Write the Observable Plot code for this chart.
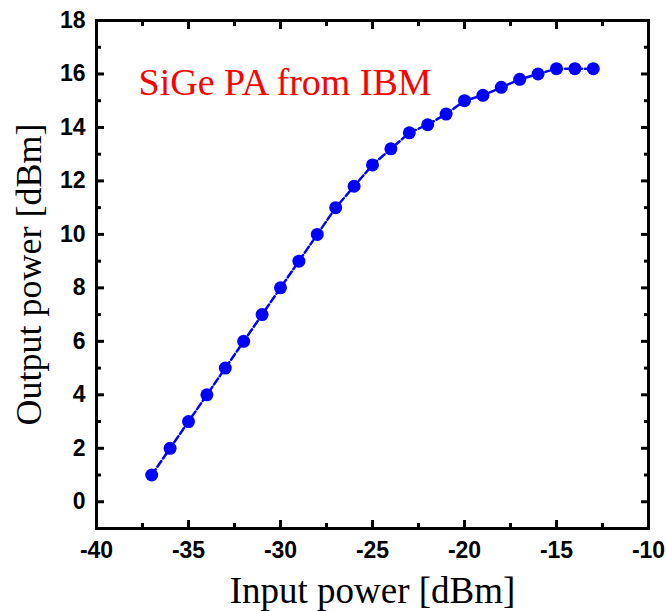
<!DOCTYPE html>
<html>
<head>
<meta charset="utf-8">
<script src="https://cdn.jsdelivr.net/npm/d3@7"></script>
<script src="https://cdn.jsdelivr.net/npm/@observablehq/plot@0.6"></script>
<style>
  html, body { margin: 0; padding: 0; background: #fff; }
  #chart svg { display: block; }
</style>
</head>
<body>
<div id="chart"></div>
<script>
const inputPower = [-37, -36, -35, -34, -33, -32, -31, -30, -29, -28, -27, -26, -25, -24, -23, -22, -21, -20, -19, -18, -17, -16, -15, -14, -13];
const outputPower = [1, 2, 3, 4, 5, 6, 7, 8, 9, 10, 11, 11.8, 12.6, 13.2, 13.8, 14.1, 14.5, 15, 15.2, 15.5, 15.8, 16, 16.2, 16.2, 16.2];
const xMajorTicks = [-40, -35, -30, -25, -20, -15, -10];
const xMinorTicks = [-37.5, -32.5, -27.5, -22.5, -17.5, -12.5];
const yMajorTicks = [0, 2, 4, 6, 8, 10, 12, 14, 16, 18];
const yMinorTicks = [-1, 1, 3, 5, 7, 9, 11, 13, 15, 17];
const xLabel = "Input power [dBm]";
const yLabel = "Output power [dBm]";
const annotation = "SiGe PA from IBM";

const data = inputPower.map((x, i) => ({x, y: outputPower[i]}));

const W = 666, H = 611, ML = 96, MR = 18, MT = 20, MB = 83;
const MAJ = 8, MIN = 5;
const tickFont = {fontFamily: "'Liberation Sans', Arial, sans-serif", fontWeight: "bold", fontSize: 23};
const serif = "'Liberation Serif', 'Times New Roman', serif";
const tk = {stroke: "#000", strokeWidth: 3};
const blank = () => "";

const chart = Plot.plot({
  width: W,
  height: H,
  marginLeft: ML,
  marginRight: MR,
  marginTop: MT,
  marginBottom: MB,
  style: {background: "#fff", color: "#000", overflow: "visible"},
  x: {domain: [-40, -10]},
  y: {domain: [-1, 18]},
  marks: [
    Plot.frame({stroke: "#000", fill: "none", strokeWidth: 3}),
    Plot.axisX(xMajorTicks, {anchor: "bottom", tickSize: 0, tickPadding: 13, label: null, tickFormat: d => String(d), ...tickFont, fill: "#000"}),
    Plot.axisY(yMajorTicks, {anchor: "left", tickSize: 0, tickPadding: 11, label: null, tickFormat: d => String(d), ...tickFont, fill: "#000"}),
    // inward ticks via shifted axis ticks (drawn after the frame)
    Plot.axisX(xMajorTicks, {anchor: "bottom", tickSize: MAJ, dy: -MAJ, label: null, tickFormat: blank, ...tk}),
    Plot.axisX(xMinorTicks, {anchor: "bottom", tickSize: MIN, dy: -MIN, label: null, tickFormat: blank, ...tk}),
    Plot.axisX(xMajorTicks, {anchor: "top", tickSize: MAJ, dy: MAJ, label: null, tickFormat: blank, ...tk}),
    Plot.axisX(xMinorTicks, {anchor: "top", tickSize: MIN, dy: MIN, label: null, tickFormat: blank, ...tk}),
    Plot.axisY(yMajorTicks, {anchor: "left", tickSize: MAJ, dx: MAJ, label: null, tickFormat: blank, ...tk}),
    Plot.axisY(yMinorTicks, {anchor: "left", tickSize: MIN, dx: MIN, label: null, tickFormat: blank, ...tk}),
    Plot.axisY(yMajorTicks, {anchor: "right", tickSize: MAJ, dx: -MAJ, label: null, tickFormat: blank, ...tk}),
    Plot.axisY(yMinorTicks, {anchor: "right", tickSize: MIN, dx: -MIN, label: null, tickFormat: blank, ...tk}),
    Plot.line(data, {x: "x", y: "y", stroke: "#0000ff", strokeWidth: 2.5, strokeDasharray: "7,3"}),
    Plot.dot(data, {x: "x", y: "y", r: 6.5, fill: "#0000ff", stroke: "none"}),
    Plot.text([annotation], {frameAnchor: "top-left", dx: 42, dy: 62, text: d => d, textAnchor: "start", lineAnchor: "middle", fill: "#ff0000", fontSize: 38, fontFamily: serif}),
    Plot.text([xLabel], {frameAnchor: "bottom", dy: 63, text: d => d, textAnchor: "middle", lineAnchor: "middle", fill: "#000", fontSize: 37, fontFamily: serif}),
    Plot.text([yLabel], {frameAnchor: "left", dx: -67, text: d => d, rotate: -90, textAnchor: "middle", lineAnchor: "middle", fill: "#000", fontSize: 36, fontFamily: serif})
  ]
});
document.getElementById("chart").appendChild(chart);
</script>
</body>
</html>
